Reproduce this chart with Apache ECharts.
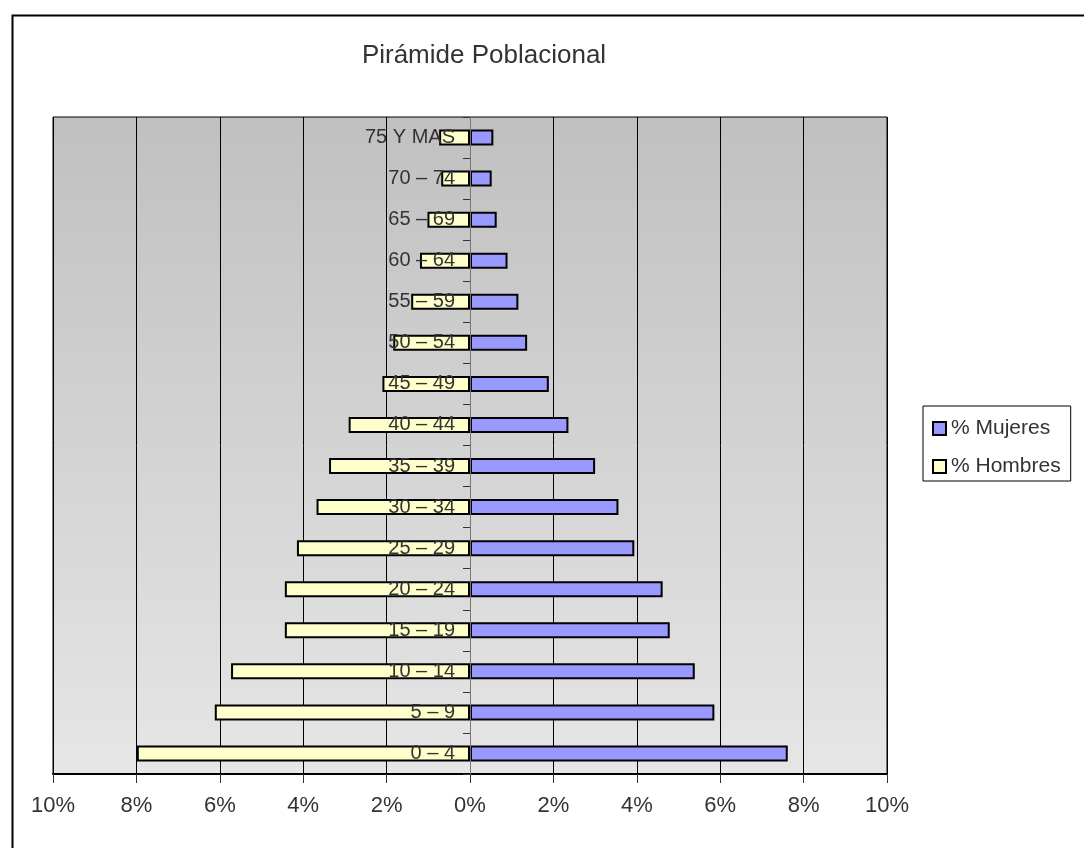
<!DOCTYPE html>
<html>
<head>
<meta charset="utf-8">
<script src="https://cdn.jsdelivr.net/npm/echarts@6/dist/echarts.min.js"></script>
<style>
html,body{margin:0;padding:0;background:#fff;}
#chart{width:1084px;height:848px;}
</style>
</head>
<body>
<div id="chart"></div>
<script>
var categories = ['0 – 4','5 – 9','10 – 14','15 – 19','20 – 24','25 – 29','30 – 34','35 – 39','40 – 44','45 – 49','50 – 54','55 – 59','60 – 64','65 – 69','70 – 74','75 Y MAS'];
var mujeres = [7.62, 5.86, 5.39, 4.79, 4.62, 3.94, 3.56, 3.00, 2.36, 1.89, 1.37, 1.16, 0.90, 0.64, 0.52, 0.56];
var hombres = [7.99, 6.12, 5.73, 4.44, 4.44, 4.15, 3.68, 3.38, 2.91, 2.10, 1.84, 1.41, 1.20, 1.02, 0.69, 0.74];
var xTicks = [-10, -8, -6, -4, -2, 0, 2, 4, 6, 8, 10];

var FONT = '"Liberation Sans", Arial, sans-serif';
var GRID_LEFT = 53, GRID_RIGHT = 197;
var chart = echarts.init(document.getElementById('chart'), null, {renderer: 'canvas'});
var plotWidth = 1084 - GRID_LEFT - GRID_RIGHT;
var option = {
  backgroundColor: '#fff',
  animation: false,
  textStyle: {fontFamily: FONT, color: '#333'},
  title: {
    text: 'Pirámide Poblacional',
    left: 479, top: 38, textAlign: 'center',
    textStyle: {fontFamily: FONT, fontSize: 26, fontWeight: 'normal', color: '#333'}
  },
  graphic: [{
    type: 'rect', left: 10, top: 13, z: 100, silent: true,
    shape: {width: 1100, height: 900},
    style: {fill: 'none', stroke: '#000', lineWidth: 2}
  }],
  legend: {
    orient: 'vertical', left: 923, top: 406,
    padding: [12, 10, 4, 9], itemGap: 17,
    backgroundColor: '#fff', borderColor: '#000', borderWidth: 1,
    itemWidth: 13, itemHeight: 13, icon: 'rect',
    data: ['% Mujeres', '% Hombres'],
    textStyle: {fontFamily: FONT, fontSize: 21, color: '#333'}
  },
  grid: {
    left: GRID_LEFT, right: GRID_RIGHT, top: 117, bottom: 74,
    containLabel: false, outerBoundsMode: 'none',
    show: true, borderColor: '#000', borderWidth: 1,
    backgroundColor: new echarts.graphic.LinearGradient(0, 0, 0, 1, [
      {offset: 0, color: '#c0c0c0'}, {offset: 1, color: '#e6e6e6'}
    ])
  },
  xAxis: {
    type: 'value', min: xTicks[0], max: xTicks[xTicks.length - 1], interval: 2,
    axisLine: {show: true, lineStyle: {color: '#000', width: 2}},
    axisTick: {show: true, length: 9, lineStyle: {color: '#333'}},
    splitLine: {show: true, lineStyle: {color: '#000', width: 1}},
    axisLabel: {
      margin: 21, fontSize: 22, color: '#333', fontFamily: FONT,
      formatter: function (v) { return Math.abs(v) + '%'; }
    }
  },
  yAxis: {
    type: 'category', data: categories, z: 10,
    position: 'left', offset: -plotWidth / 2,
    axisLine: {show: true, onZero: false, lineStyle: {color: '#777', width: 1}},
    axisTick: {show: true, length: 7, interval: 0, lineStyle: {color: '#333'}},
    axisLabel: {margin: 15, fontSize: 20, color: '#333', fontFamily: FONT, interval: 0}
  },
  series: [
    {
      name: '% Mujeres', type: 'bar', stack: 'pop', barWidth: 16,
      itemStyle: {color: '#9999ff', borderColor: '#000', borderWidth: 2},
      data: mujeres
    },
    {
      name: '% Hombres', type: 'bar', stack: 'pop', barWidth: 16,
      itemStyle: {color: '#ffffcc', borderColor: '#000', borderWidth: 2},
      data: hombres.map(function (v) { return -v; })
    }
  ]
};
chart.setOption(option);
</script>
</body>
</html>
